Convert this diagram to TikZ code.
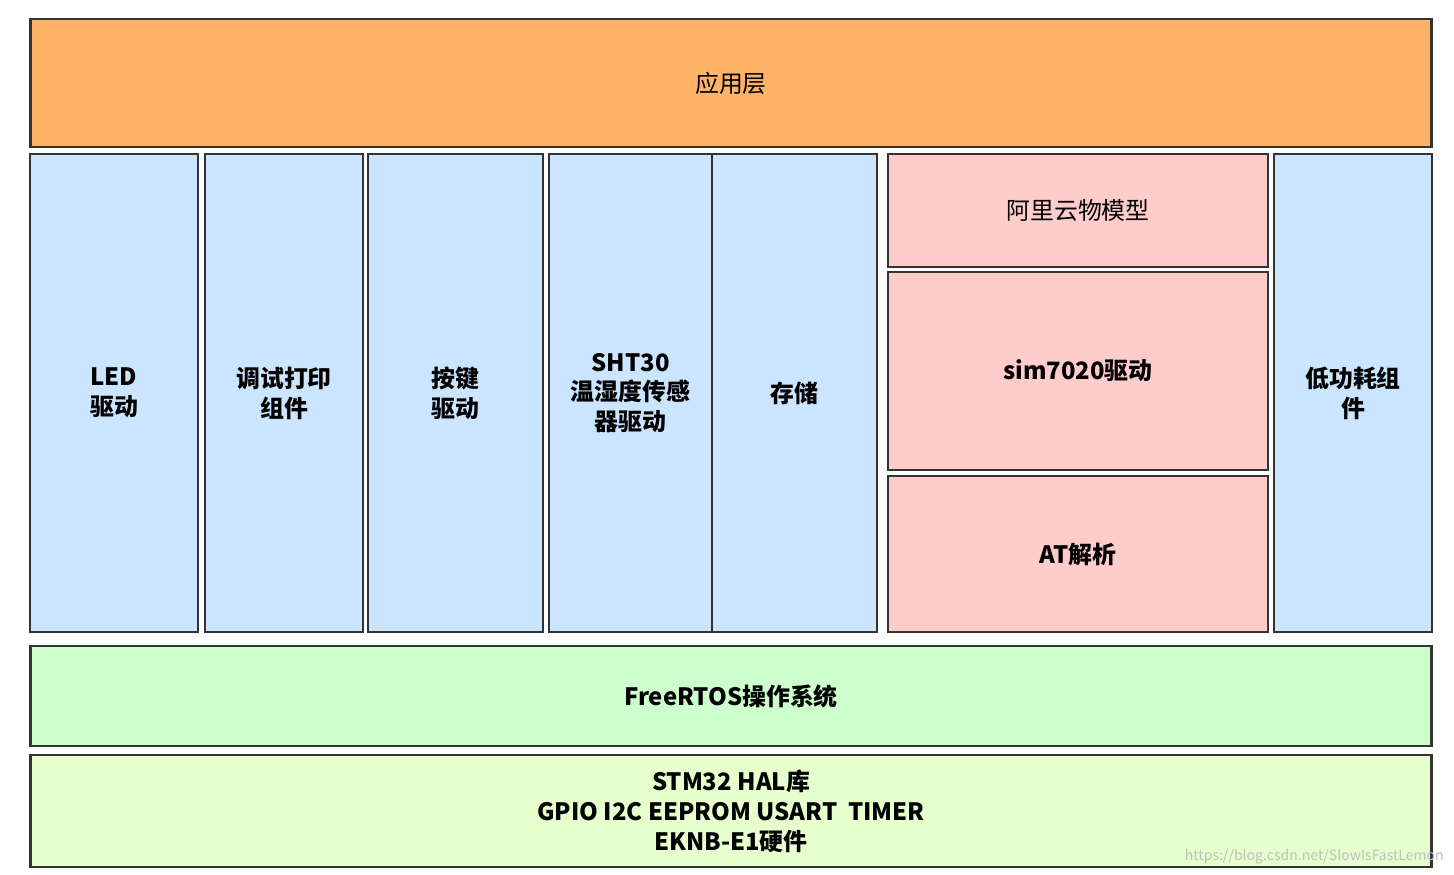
\documentclass[tikz,border=0pt]{standalone}
\usepackage{fontspec}
\setmainfont{Noto Sans CJK SC}
\definecolor{appor}{HTML}{FFB366}
\definecolor{drvblue}{HTML}{CCE5FF}
\definecolor{netpink}{HTML}{FFCCCC}
\definecolor{osgreen}{HTML}{CCFFCC}
\definecolor{halgreen}{HTML}{E6FFCC}
\definecolor{edgegray}{HTML}{333333}
\begin{document}
\begin{tikzpicture}[
    x=0.02cm, y=-0.02cm,
    layer/.style={rectangle, draw=edgegray, line width=1.6pt, align=center,
                  inner sep=2pt, font=\fontsize{13.6}{17}\selectfont\bfseries},
    plain/.style={font=\fontsize{13.6}{17}\selectfont}
  ]
  \useasboundingbox (0,0) rectangle (1454,875);

  % ---- application ----
  \node[layer, plain, fill=appor, minimum width=28.04cm, minimum height=2.56cm]
    (app) at (731,83) {应用层};

  % ---- drivers / components ----
  \node[layer, fill=drvblue, minimum width=3.36cm, minimum height=9.56cm]
    (led) at (114,393) {LED\\驱动};
  \node[layer, fill=drvblue, minimum width=3.16cm, minimum height=9.56cm]
    (dbg) at (284,393) {调试打印\\组件};
  \node[layer, fill=drvblue, minimum width=3.5cm, minimum height=9.56cm]
    (key) at (455.5,393) {按键\\驱动};
  \node[layer, fill=drvblue, minimum width=3.26cm, minimum height=9.56cm]
    (sht) at (630.5,393) {SHT30\\温湿度传感\\器驱动};
  \node[layer, fill=drvblue, minimum width=3.3cm, minimum height=9.56cm]
    (store) at (794.5,393) {存储};

  % ---- network stack ----
  \node[layer, plain, fill=netpink, minimum width=7.6cm, minimum height=2.26cm]
    (ali) at (1078,210.5) {阿里云物模型};
  \node[layer, fill=netpink, minimum width=7.6cm, minimum height=3.96cm]
    (sim) at (1078,371) {sim7020驱动};
  \node[layer, fill=netpink, minimum width=7.6cm, minimum height=3.12cm]
    (at) at (1078,554) {AT解析};

  \node[layer, fill=drvblue, minimum width=3.16cm, minimum height=9.56cm]
    (lp) at (1353,393) {低功耗组\\件};

  % ---- os / hal ----
  \node[layer, fill=osgreen, minimum width=28.04cm, minimum height=2.0cm]
    (rtos) at (731,696) {FreeRTOS操作系统};
  \node[layer, fill=halgreen, minimum width=28.04cm, minimum height=2.24cm]
    (hal) at (731,811) {STM32 HAL库\\GPIO I2C EEPROM USART\ \ TIMER\\EKNB-E1硬件};

  \node[text=black!25, font=\fontsize{8}{9}\selectfont, anchor=east]
    (mark) at (1450,857) {https://blog.csdn.net/SlowIsFastLemon};
\end{tikzpicture}
\end{document}
